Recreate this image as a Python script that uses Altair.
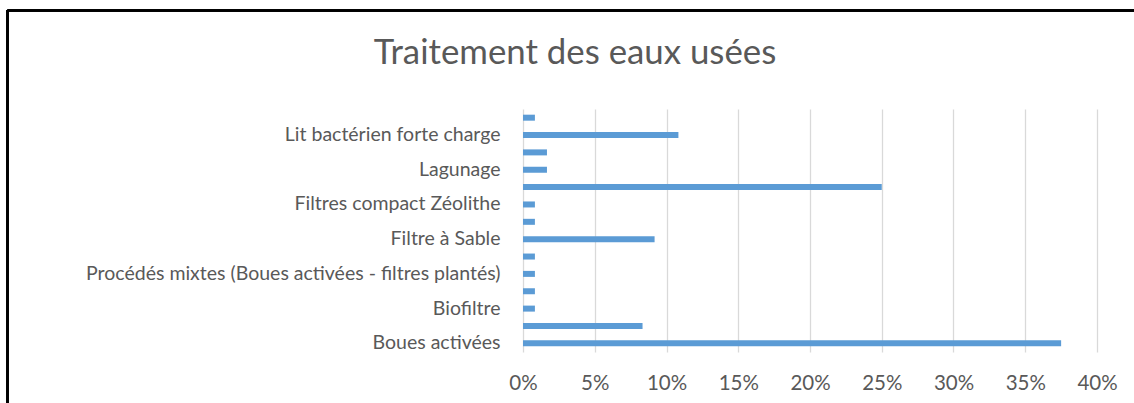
import altair as alt
import pandas as pd

# Categories listed top to bottom (every other label is hidden, as in the source)
categories = [
    "Micro-station",
    "Lit bactérien forte charge",
    "Disques biologiques",
    "Lagunage",
    "Filtres plantés de roseaux",
    "Filtres compact Zéolithe",
    "Filtres compact coco",
    "Filtre à Sable ",
    "Fosse toutes eaux",
    "Procédés mixtes (Boues activées - filtres plantés)",
    "Infiltration",
    "Biofiltre",
    "SBR",
    "Boues activées",
]
shown_labels = [
    "Lit bactérien forte charge",
    "Lagunage",
    "Filtres compact Zéolithe",
    "Filtre à Sable ",
    "Procédés mixtes (Boues activées - filtres plantés)",
    "Biofiltre",
    "Boues activées",
]
values = [0.83, 10.83, 1.67, 1.67, 25.0, 0.83, 0.83, 9.17, 0.83, 0.83, 0.83, 0.83, 8.33, 37.5]
title_text = ["Traitement des eaux usées"]

df = pd.DataFrame({"cat": categories, "val": [v / 100 for v in values]})

FONT = "Lato"
TXT = "#595959"

label_expr = "indexof([" + ",".join("'" + s + "'" for s in shown_labels) + "], datum.value) >= 0 ? datum.value : ''"

bars = alt.Chart(df).mark_bar(size=6, color="#5B9BD5").encode(
    x=alt.X("val:Q", scale=alt.Scale(domain=[0, 0.4], nice=False),
            axis=alt.Axis(format=".0%", values=[0, .05, .1, .15, .2, .25, .3, .35, .4],
                          title=None, domain=False, ticks=False, grid=True,
                          gridColor="#D9D9D9", gridWidth=1.3, labelPadding=21,
                          labelFlush=False, labelOverlap=False,
                          labelFontSize=20.5, labelColor=TXT, labelFont=FONT)),
    y=alt.Y("cat:N", sort=categories, scale=alt.Scale(paddingOuter=0, paddingInner=0),
            axis=alt.Axis(title=None, domain=False, ticks=False, grid=False, labelPadding=23,
                          labelExpr=label_expr, labelFontSize=19.5, labelColor=TXT,
                          labelFont=FONT, labelLimit=600)),
)

title = alt.Chart(pd.DataFrame({"t": title_text})).mark_text(
    font=FONT, fontSize=34.8, color=TXT, align="center", baseline="alphabetic", clip=False
).encode(text="t:N", x=alt.value(52), y=alt.value(-45))

frame_top = alt.Chart(df).mark_rule(color="black", strokeWidth=1.5, clip=False).encode(
    x=alt.value(-515.5), x2=alt.value(620), y=alt.value(-98.5)
)
frame_left = alt.Chart(df).mark_rule(color="black", strokeWidth=1.5, clip=False).encode(
    x=alt.value(-515.5), y=alt.value(-99), y2=alt.value(300)
)

chart = alt.layer(bars, title, frame_top, frame_left).properties(
    width=574, height=243,
    padding={"left": 523, "top": 109, "right": 37, "bottom": 51},
    autosize=alt.AutoSizeParams(type="none"),
    view=alt.ViewBackground(stroke="transparent", strokeWidth=0),
).configure_view(stroke="transparent", strokeWidth=0).configure(background="white")

chart.save("out.html", embed_options={"renderer": "svg", "actions": False})
